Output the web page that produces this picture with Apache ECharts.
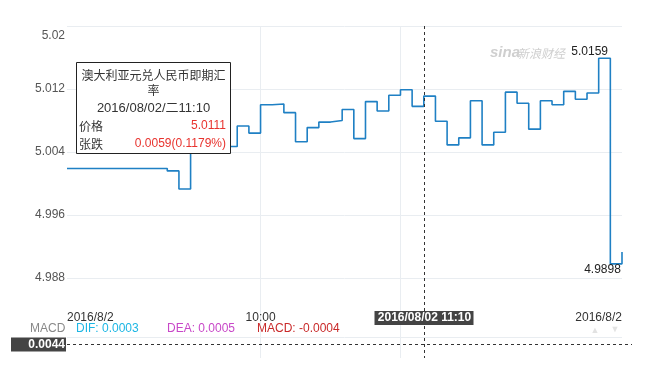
<!DOCTYPE html>
<html lang="zh-CN">
<head>
<meta charset="UTF-8">
<title>澳大利亚元兑人民币即期汇率</title>
<script src="https://cdn.jsdelivr.net/npm/echarts@6/dist/echarts.min.js"></script>
<style>
    html, body { margin: 0; padding: 0; background: #fff; }
    #chart { width: 647px; height: 373px; }
</style>
</head>
<body>
<div id="chart"></div>
<script>
    // 2016/08/02 分时, 每5分钟一个价格
    var times = ['08:37', '09:20', '09:25', '09:30', '09:50', '09:55', '10:00', '10:05', '10:10', '10:15',
        '10:20', '10:25', '10:30', '10:35', '10:40', '10:45', '10:50', '10:55', '11:00', '11:05',
        '11:10', '11:15', '11:20', '11:25', '11:30', '11:35', '11:40', '11:45', '11:50', '11:55',
        '12:00', '12:05', '12:10', '12:15', '12:20', '12:25', '12:30', '12:35'];
    var prices = [5.0019, 5.0016, 4.9993, 5.0047, 5.0073, 5.0064, 5.0100, 5.0101, 5.0090, 5.0053,
        5.0071, 5.0078, 5.0080, 5.0094, 5.0057, 5.0104, 5.0092, 5.0112, 5.0119, 5.0098,
        5.0111, 5.0079, 5.0049, 5.0058, 5.0105, 5.0049, 5.0065, 5.0116, 5.0102, 5.0069,
        5.0105, 5.0100, 5.0117, 5.0107, 5.0115, 5.0159, 4.9898, 4.9913];
    var xLabelTimes = ['08:37', '10:00', '11:00', '12:35'];
    var xGridTimes = ['10:00', '11:00'];
    var dayLabel = '2016/8/2';
    var yMin = 4.98, yMax = 5.02, yStep = 0.008;

    var crossTime = '11:10';
    var crossMacd = 0.0044;
    var tipTitle = ['澳大利亚元兑人民币即期汇', '率'];
    var tipDate = '2016/08/02/二11:10';
    var tipPrice = '5.0111';
    var tipChange = '0.0059(0.1179%)';
    var macdDif = '0.0003', macdDea = '0.0005', macdVal = '-0.0004';

    function toMin(t) {
        var p = t.split(':');
        return +p[0] * 60 + +p[1];
    }
    function fmtTime(m) {
        var h = Math.floor(m / 60), mm = m % 60;
        return (h < 10 ? '0' : '') + h + ':' + (mm < 10 ? '0' : '') + mm;
    }

    var tStart = toMin(times[0]);
    var tEnd = toMin(times[times.length - 1]);
    var data = times.map(function (t, i) { return [toMin(t), prices[i]]; });

    var maxIdx = prices.indexOf(Math.max.apply(null, prices));
    var minIdx = prices.indexOf(Math.min.apply(null, prices));

    var font = 'Arial, "Liberation Sans", "Noto Sans CJK SC", sans-serif';
    var gridColor = '#e9edf1';

    var myChart = echarts.init(document.getElementById('chart'));
    var option = {
        animation: false,
        textStyle: { fontFamily: font },
        grid: [
            { left: 67, right: 25, top: 26, height: 315, outerBoundsMode: 'none' },
            { left: 67, right: 25, top: 337, height: 21, outerBoundsMode: 'none' }
        ],
        xAxis: [
            {
                type: 'value', gridIndex: 0, min: tStart, max: tEnd,
                axisLine: { show: false },
                axisTick: { show: false, customValues: xGridTimes.map(toMin) },
                splitLine: { show: true, lineStyle: { color: gridColor } },
                axisLabel: {
                    inside: true, margin: 17, color: '#333', fontSize: 12,
                    customValues: xLabelTimes.map(toMin),
                    alignMinLabel: 'left', alignMaxLabel: 'right',
                    formatter: function (v) {
                        return (v === tStart || v === tEnd) ? dayLabel : fmtTime(v);
                    }
                }
            },
            {
                type: 'value', gridIndex: 1, min: tStart, max: tEnd,
                axisLine: { show: false },
                axisTick: { show: false, customValues: xGridTimes.map(toMin) },
                splitLine: { show: true, lineStyle: { color: gridColor } },
                axisLabel: { show: false }
            }
        ],
        yAxis: [
            {
                type: 'value', gridIndex: 0, min: yMin, max: yMax, interval: yStep,
                axisLine: { show: false },
                axisTick: { show: false },
                splitLine: { show: true, showMinLine: false, lineStyle: { color: gridColor } },
                axisLabel: {
                    margin: 2, color: '#555', fontSize: 12,
                    formatter: function (v) {
                        if (Math.abs(v - yMin) < 1e-6) return '';
                        var s = String(parseFloat(v.toFixed(3)));
                        return Math.abs(v - yMax) < 1e-6 ? '{top|' + s + '}' : s;
                    },
                    rich: { top: { color: '#555', fontSize: 12, padding: [19, 0, 0, 0] } }
                }
            },
            {
                type: 'value', gridIndex: 1, min: 0, max: 0.0066, interval: 0.0066,
                axisLine: { show: false },
                axisTick: { show: false },
                axisLabel: { show: false },
                splitLine: { show: true, showMinLine: false, lineStyle: { color: gridColor } }
            }
        ],
        series: [
            {
                type: 'line', xAxisIndex: 0, yAxisIndex: 0,
                step: 'end',
                data: data,
                showSymbol: false,
                lineStyle: { color: '#1f80c4', width: 1.6 },
                itemStyle: { color: '#1f80c4' },
                markPoint: {
                    symbolSize: 0,
                    silent: true,
                    data: [
                        {
                            coord: [toMin(times[maxIdx + 1]) - 1, prices[maxIdx]],
                            label: { show: true, position: 'top', align: 'right', distance: 1,
                                color: '#222', fontSize: 12, formatter: prices[maxIdx].toFixed(4) }
                        },
                        {
                            coord: [toMin(times[minIdx + 1]) - 0.5, prices[minIdx]],
                            label: { show: true, position: 'bottom', align: 'right', distance: 0,
                                color: '#222', fontSize: 12, formatter: prices[minIdx].toFixed(4) }
                        }
                    ]
                }
            }
        ]
    };
    myChart.setOption(option);

    // 十字光标, 提示框, 图例, 水印
    var cx = Math.round(myChart.convertToPixel({ xAxisIndex: 0 }, toMin(crossTime))) + 0.5;
    var yTop = myChart.convertToPixel({ yAxisIndex: 0 }, yMax);
    var yBot = myChart.convertToPixel({ yAxisIndex: 1 }, 0);
    var hy = Math.round(myChart.convertToPixel({ yAxisIndex: 1 }, crossMacd)) + 0.5;
    var cjk = '"Noto Sans CJK SC", sans-serif';

    function txt(x, y, text, fill, fontStr, align) {
        return { type: 'text', x: x, y: y, z: 101, silent: true,
            style: { text: text, fill: fill, font: fontStr, align: align || 'left', verticalAlign: 'middle' } };
    }

    myChart.setOption({
        graphic: [
            { type: 'line', z: 90, silent: true, shape: { x1: cx, y1: yTop, x2: cx, y2: yBot },
                style: { stroke: '#333', lineWidth: 1, lineDash: [3, 3] } },
            { type: 'line', z: 90, silent: true, shape: { x1: 67, y1: hy, x2: 632, y2: hy },
                style: { stroke: '#333', lineWidth: 1, lineDash: [3, 3] } },
            { type: 'rect', z: 100, silent: true, shape: { x: 11, y: hy - 7, width: 55, height: 14 },
                style: { fill: '#444' } },
            txt(65, hy, crossMacd.toFixed(4), '#fff', 'bold 12px ' + font, 'right'),
            { type: 'rect', z: 100, silent: true, shape: { x: cx - 50, y: 311, width: 99, height: 14 },
                style: { fill: '#444' } },
            txt(cx, 318, '2016/08/02 ' + crossTime, '#fff', 'bold 12px ' + font, 'center'),

            { type: 'rect', z: 100, silent: true, shape: { x: 76.5, y: 62.5, width: 154, height: 91 },
                style: { fill: '#fff', stroke: '#222', lineWidth: 1 } },
            txt(153.5, 75, tipTitle[0], '#333', '12px ' + cjk, 'center'),
            txt(153.5, 90, tipTitle[1], '#333', '12px ' + cjk, 'center'),
            txt(153.5, 108, tipDate, '#333', '13px ' + font, 'center'),
            txt(79, 126, '价格', '#333', '12px ' + cjk),
            txt(226, 126, tipPrice, '#e8332e', '12px ' + font, 'right'),
            txt(79, 144, '张跌', '#333', '12px ' + cjk),
            txt(226, 144, tipChange, '#e8332e', '12px ' + font, 'right'),

            txt(30, 329, 'MACD', '#888', '12px ' + font),
            txt(76, 329, 'DIF: ' + macdDif, '#1cb6e4', '12px ' + font),
            txt(167, 329, 'DEA: ' + macdDea, '#c847c8', '12px ' + font),
            txt(257, 329, 'MACD: ' + macdVal, '#c92a2a', '12px ' + font),
            txt(595, 331, '▲', '#e2e2e2', '9px ' + font, 'center'),
            txt(615, 330, '▼', '#e2e2e2', '9px ' + font, 'center'),

            txt(490, 53, 'sina', '#cfcfcf', 'italic bold 15px ' + font),
            txt(517, 53, '新浪财经', '#cfcfcf', 'italic 12px ' + cjk)
        ]
    });
</script>
</body>
</html>
